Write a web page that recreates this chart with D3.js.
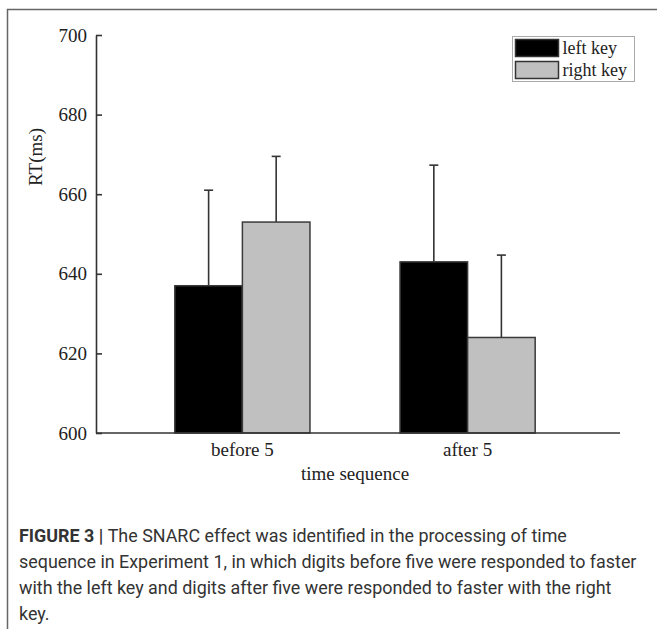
<!DOCTYPE html>
<html>
<head>
<meta charset="utf-8">
<script src="https://cdn.jsdelivr.net/npm/d3@7"></script>
<style>
  html, body { margin: 0; padding: 0; background: #fff; }
  svg { display: block; }
</style>
</head>
<body>
<svg id="chart" width="657" height="629"></svg>
<script>
// Mean reaction times (ms) per time-sequence position and response key
const categories = ["before 5", "after 5"];
const seriesNames = ["left key", "right key"];
const leftKey = [637, 643];
const rightKey = [653, 624];
const leftKeyErr = [24, 24.3];
const rightKeyErr = [16.5, 20.7];
const yTicks = [600, 620, 640, 660, 680, 700];
const captionLines = [
  [{ b: true, t: "FIGURE 3 | " }, { b: false, t: "The SNARC effect was identified in the processing of time" }],
  [{ b: false, t: "sequence in Experiment 1, in which digits before five were responded to faster" }],
  [{ b: false, t: "with the left key and digits after five were responded to faster with the right" }],
  [{ b: false, t: "key." }]
];

const svg = d3.select("#chart");
const serif = "'Liberation Serif', 'Times New Roman', serif";

// Figure frame (top and left rule)
svg.append("path")
  .attr("d", "M7.5,629 V9.5 H657")
  .attr("fill", "none")
  .attr("stroke", "#666")
  .attr("stroke-width", 1.5);

const plot = { left: 96, right: 620, top: 35, bottom: 433 };

const x0 = d3.scaleBand()
  .domain(categories)
  .range([plot.left, 614])
  .paddingInner(0.4)
  .paddingOuter(0.35);

const x1 = d3.scaleBand()
  .domain(seriesNames)
  .range([0, x0.bandwidth()]);

const y = d3.scaleLinear()
  .domain([600, 700])
  .range([plot.bottom, plot.top]);

const color = d3.scaleOrdinal()
  .domain(seriesNames)
  .range(["#000000", "#c0c0c0"]);

const rows = categories.map((c, i) => ({
  cat: c,
  vals: [
    { key: seriesNames[0], v: leftKey[i], e: leftKeyErr[i] },
    { key: seriesNames[1], v: rightKey[i], e: rightKeyErr[i] }
  ]
}));

// Error bars (drawn first so the bar covers the lower half)
const groups = svg.append("g").selectAll("g")
  .data(rows)
  .join("g")
  .attr("transform", d => `translate(${x0(d.cat)},0)`);

const eb = groups.selectAll("g.err")
  .data(d => d.vals)
  .join("g")
  .attr("class", "err")
  .attr("stroke", "#333")
  .attr("stroke-width", 1.6);

eb.append("line")
  .attr("x1", d => x1(d.key) + x1.bandwidth() / 2)
  .attr("x2", d => x1(d.key) + x1.bandwidth() / 2)
  .attr("y1", d => y(d.v))
  .attr("y2", d => y(d.v + d.e));

eb.append("line")
  .attr("x1", d => x1(d.key) + x1.bandwidth() / 2 - 4.5)
  .attr("x2", d => x1(d.key) + x1.bandwidth() / 2 + 4.5)
  .attr("y1", d => y(d.v + d.e))
  .attr("y2", d => y(d.v + d.e));

groups.selectAll("rect")
  .data(d => d.vals)
  .join("rect")
  .attr("x", d => x1(d.key))
  .attr("y", d => y(d.v))
  .attr("width", x1.bandwidth())
  .attr("height", d => y(600) - y(d.v))
  .attr("fill", d => color(d.key))
  .attr("stroke", "#3a3a3a")
  .attr("stroke-width", 1.5);

// Y axis: ticks pointing inward
const yAxis = svg.append("g")
  .attr("transform", `translate(${plot.left},0)`)
  .call(d3.axisLeft(y).tickValues(yTicks).tickSize(-6).tickPadding(9).tickSizeOuter(0));
yAxis.select(".domain").attr("stroke", "#333").attr("stroke-width", 1.6);
yAxis.selectAll(".tick line").attr("stroke", "#333").attr("stroke-width", 1.6);
yAxis.selectAll(".tick text")
  .attr("font-family", serif)
  .attr("font-size", 19)
  .attr("fill", "#222");

// X axis: baseline with category labels, no tick marks
const xAxis = svg.append("g")
  .attr("transform", `translate(0,${plot.bottom})`)
  .call(d3.axisBottom(x0).tickSize(0).tickPadding(10));
xAxis.select(".domain").remove();
xAxis.selectAll(".tick text")
  .attr("font-family", serif)
  .attr("font-size", 19)
  .attr("fill", "#222");
svg.append("line")
  .attr("x1", plot.left).attr("x2", plot.right)
  .attr("y1", plot.bottom).attr("y2", plot.bottom)
  .attr("stroke", "#333").attr("stroke-width", 1.6);

// Axis titles
svg.append("text")
  .attr("x", (plot.left + plot.right) / 2 - 3)
  .attr("y", 480)
  .attr("text-anchor", "middle")
  .attr("font-family", serif)
  .attr("font-size", 19)
  .attr("fill", "#222")
  .text("time sequence");

svg.append("text")
  .attr("transform", "translate(42,157) rotate(-90)")
  .attr("text-anchor", "middle")
  .attr("font-family", serif)
  .attr("font-size", 19)
  .attr("fill", "#222")
  .text("RT(ms)");

// Legend
const legend = svg.append("g");
legend.append("rect")
  .attr("x", 512.5).attr("y", 36.5)
  .attr("width", 122).attr("height", 45)
  .attr("fill", "#fff")
  .attr("stroke", "#aaa")
  .attr("stroke-width", 1);
const li = legend.selectAll("g.item")
  .data(seriesNames)
  .join("g")
  .attr("class", "item")
  .attr("transform", (d, i) => `translate(515.5,${39.5 + i * 22})`);
li.append("rect")
  .attr("width", 43).attr("height", 17)
  .attr("fill", d => color(d))
  .attr("stroke", "#333")
  .attr("stroke-width", 1.5);
li.append("text")
  .attr("x", 47).attr("y", 14.5)
  .attr("font-family", serif)
  .attr("font-size", 18)
  .attr("fill", "#222")
  .text(d => d);

// Caption
const cap = svg.append("g")
  .attr("font-family", "Roboto, 'Liberation Sans', sans-serif")
  .attr("font-size", 17.9)
  .attr("fill", "#333");
captionLines.forEach((parts, i) => {
  const t = cap.append("text").attr("x", 19).attr("y", 542 + i * 26);
  parts.forEach(p => {
    t.append("tspan")
      .attr("font-weight", p.b ? 700 : 400)
      .text(p.t);
  });
});
</script>
</body>
</html>
